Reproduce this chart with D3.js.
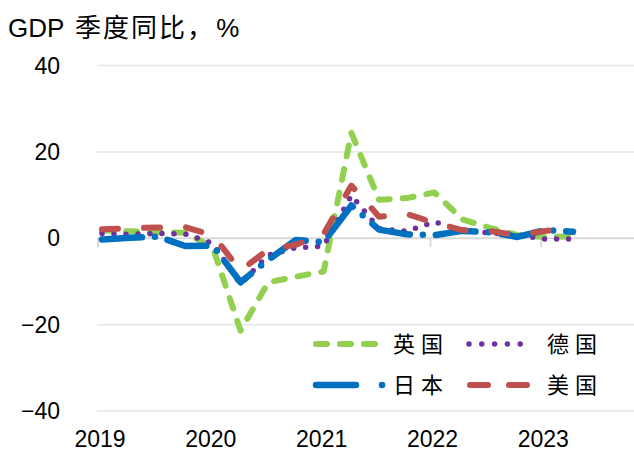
<!DOCTYPE html>
<html>
<head>
<meta charset="utf-8">
<script src="https://d3js.org/d3.v7.min.js"></script>
<style>
  body { margin: 0; background: #fff; }
  svg { display: block; }
  .tick-label { font-family: "Liberation Sans", Arial, sans-serif; font-size: 23px; fill: #000; }
  .cn { font-family: "Noto Sans CJK SC", sans-serif; }
</style>
</head>
<body>
<div id="chart"></div>
<script>
// quarters 2019Q1 .. 2023Q2
var quarters = ["2019Q1","2019Q2","2019Q3","2019Q4","2020Q1","2020Q2","2020Q3","2020Q4",
                "2021Q1","2021Q2","2021Q3","2021Q4","2022Q1","2022Q2","2022Q3","2022Q4",
                "2023Q1","2023Q2"];
var yearLabels = ["2019","2020","2021","2022","2023"];
var yTicks = [40, 20, 0, -20, -40];

var uk      = [1.8, 1.6, 1.4, 1.3, -2.1, -21.4, -10.2, -8.9, -7.7, 24.4, 8.9, 9.3, 10.6, 4.4, 2.4, 0.7, 0.3, 0.4];
var germany = [1.1, 0.9, 1.1, 1.0, -1.2, -10.6, -3.9, -2.2, -1.8, 9.9, 2.2, 1.6, 3.8, 1.8, 1.2, 0.8, -0.2, -0.2];
var japan   = [-0.3, 0.1, 0.4, -1.8, -1.7, -10.2, -5.0, -0.4, -0.9, 7.6, 2.0, 0.9, 0.7, 1.7, 1.4, 0.3, 1.9, 1.5];
var us      = [2.1, 2.3, 2.5, 2.6, 0.7, -7.5, -2.6, -1.5, 1.0, 12.2, 5.0, 5.6, 3.6, 1.9, 1.7, 0.7, 1.7, 2.4];

var seriesNames = ["英国", "德国", "日本", "美国"];
var seriesData = [uk, germany, japan, us];
var colors = ["#92d050", "#7030a0", "#0070c0", "#c0504d"];
var dashes = ["11 13", "0 12", "40 13 0 13", "16 26"];
var widths = [6, 5.5, 6.5, 6];

var width = 634, height = 451;

var svg = d3.select("#chart").append("svg")
  .attr("width", width)
  .attr("height", height);

var x = d3.scaleLinear().domain([0, quarters.length - 1]).range([102, 573]);
var y = d3.scaleLinear().domain([-40, 40]).range([411, 65.5]);

// title
var title = svg.append("text")
  .attr("x", 8).attr("y", 37)
  .attr("font-size", 26);
title.append("tspan")
  .attr("font-family", "Liberation Sans, Arial, sans-serif")
  .text("GDP ");
title.append("tspan")
  .attr("class", "cn")
  .attr("dx", 4)
  .attr("letter-spacing", 2)
  .text("季度同比，");
title.append("tspan")
  .attr("font-family", "Liberation Sans, Arial, sans-serif")
  .attr("dx", 1)
  .text("%");

// gridlines
svg.append("g").selectAll("line")
  .data(yTicks).enter().append("line")
  .attr("x1", 97).attr("x2", width)
  .attr("y1", function(d){ return y(d); })
  .attr("y2", function(d){ return y(d); })
  .attr("stroke", function(d){ return d === 0 ? "#d9d9d9" : "#ebebeb"; })
  .attr("stroke-width", 2);

// y labels
svg.append("g").selectAll("text")
  .data(yTicks).enter().append("text")
  .attr("class", "tick-label")
  .attr("x", 60)
  .attr("y", function(d){ return y(d); })
  .attr("dy", "0.35em")
  .attr("text-anchor", "end")
  .text(function(d){ return d < 0 ? "\u2212" + Math.abs(d) : d; });

// x ticks on the zero line
var xTickIdx = yearLabels.map(function(d, i){ return i * 4; });
svg.append("g").selectAll("line")
  .data(xTickIdx).enter().append("line")
  .attr("x1", function(d){ return x(d) - 4; })
  .attr("x2", function(d){ return x(d) - 4; })
  .attr("y1", y(0)).attr("y2", y(0) + 9)
  .attr("stroke", "#d9d9d9").attr("stroke-width", 2);

svg.append("g").selectAll("text")
  .data(yearLabels).enter().append("text")
  .attr("class", "tick-label")
  .attr("x", function(d, i){ return x(i * 4) - 2; })
  .attr("y", 447)
  .attr("text-anchor", "middle")
  .text(function(d){ return d; });

// lines
var line = d3.line()
  .x(function(d, i){ return x(i); })
  .y(function(d){ return y(d); });

svg.append("g").selectAll("path")
  .data(seriesData).enter().append("path")
  .attr("d", function(d){ return line(d); })
  .attr("fill", "none")
  .attr("stroke", function(d, i){ return colors[i]; })
  .attr("stroke-width", function(d, i){ return widths[i]; })
  .attr("stroke-dasharray", function(d, i){ return dashes[i]; })
  .attr("stroke-linecap", "round")
  .attr("stroke-linejoin", "round");

// legend
var legendItems = [
  {name: seriesNames[0], col: 0, row: 0, x1: 316, x2: 375, dash: "11 13"},
  {name: seriesNames[1], col: 1, row: 0, x1: 469, x2: 533, dash: "0 12.8"},
  {name: seriesNames[2], col: 0, row: 1, x1: 316, x2: 386, dash: "40 26 0.1 100"},
  {name: seriesNames[3], col: 1, row: 1, x1: 470, x2: 527, dash: "18 21"}
];
var legendRowY = [344, 385];
var legendTextX = [393, 547];

var lg = svg.append("g").selectAll("g")
  .data(legendItems).enter().append("g");

lg.append("path")
  .attr("d", function(d){ return "M" + d.x1 + "," + legendRowY[d.row] + "H" + d.x2; })
  .attr("stroke", function(d, i){ return colors[i]; })
  .attr("stroke-width", function(d, i){ return widths[i]; })
  .attr("stroke-dasharray", function(d){ return d.dash; })
  .attr("stroke-linecap", "round")
  .attr("fill", "none");

lg.append("text")
  .attr("class", "cn")
  .attr("x", function(d){ return legendTextX[d.col]; })
  .attr("y", function(d){ return legendRowY[d.row]; })
  .attr("dy", "0.36em")
  .attr("font-size", 22)
  .attr("letter-spacing", 6)
  .text(function(d){ return d.name; });
</script>
</body>
</html>
